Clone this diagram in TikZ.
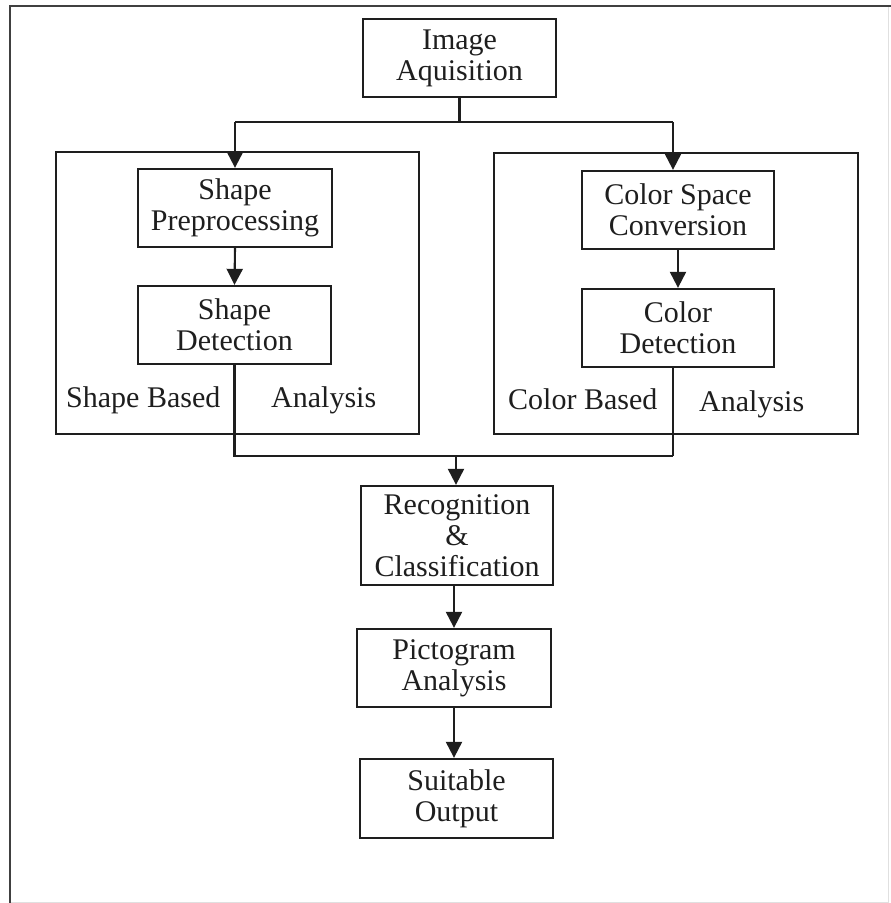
\documentclass[tikz,border=0pt]{standalone}
\usepackage{fontspec}
\setmainfont{Liberation Serif}
\usetikzlibrary{arrows.meta}
\definecolor{ink}{HTML}{1E1E1E}
\tikzset{
  stepbox/.style={draw=ink, line width=2.3pt, minimum width=193pt, minimum height=78pt,
    inner sep=0pt, align=center, text=ink, font=\fontsize{30}{31}\selectfont},
  groupbox/.style={draw=ink, line width=2.3pt, inner sep=0pt},
  lbl/.style={anchor=base west, inner sep=0pt, text=ink, font=\fontsize{30}{31}\selectfont},
  conn/.style={draw=ink, line width=2.1pt},
  arr/.style={conn, -{Triangle[width=16pt,length=16pt]}}
}
\begin{document}
\begin{tikzpicture}[x=1pt,y=-1pt]
\useasboundingbox (0,0) rectangle (891,903);
% outer frame
\draw[line width=1pt, black!12] (10,6) rectangle (888,902);
\draw[line width=2.8pt, black!75] (891,6) -- (10,6) -- (10,903);

% group boxes
\node[groupbox, minimum width=363pt, minimum height=282pt] (gl) at (237.5,293) {};
\node[groupbox, minimum width=364pt, minimum height=281pt] (gr) at (676,293.5) {};

% step boxes
\node[stepbox] (acq) at (459.5,58) {Image\\Aquisition};
\node[stepbox, minimum width=194pt] (sp) at (235,208) {Shape\\Preprocessing};
\node[stepbox] (sd) at (234.5,325) {Shape\\Detection};
\node[stepbox, minimum width=192pt] (csc) at (678,210) {Color Space\\Conversion};
\node[stepbox, minimum width=192pt] (cd) at (678,328) {Color\\Detection};
\node[stepbox, minimum width=192pt, minimum height=99pt] (rc) at (457,535.5) {Recognition\\\&\\Classification};
\node[stepbox, minimum width=194pt] (pa) at (454,668) {Pictogram\\Analysis};
\node[stepbox, minimum height=79pt] (so) at (456.5,798.5) {Suitable\\Output};

% labels
\node[lbl] (lsb) at (66,407) {Shape Based};
\node[lbl] (lsa) at (271,407) {Analysis};
\node[lbl] (lcb) at (508,409) {Color Based};
\node[lbl] (lca) at (699,411) {Analysis};

% junctions
\coordinate (top) at (459.5,122);
\coordinate (tl) at (235,122);
\coordinate (tr) at (673,122);
\coordinate (bl) at (234.5,456);
\coordinate (br) at (673,456);
\coordinate (bm) at (456,456);

% connectors
\draw[conn] (acq.south) -- (top);
\draw[conn] (tl) -- (tr);
\draw[arr] (tl) -- (tl |- sp.north);
\draw[arr] (tr) -- (tr |- csc.north);
\draw[arr] (sp.south) -- (sd.north);
\draw[arr] (csc.south) -- (cd.north);
\draw[conn] (sd.south) -- (bl) -- (br);
\draw[conn] (br |- cd.south) -- (br);
\draw[arr] (bm) -- (bm |- rc.north);
\draw[arr] (rc.south -| pa.north) -- (pa.north);
\draw[arr] (pa.south) -- (so.north -| pa.south);
\end{tikzpicture}
\end{document}
